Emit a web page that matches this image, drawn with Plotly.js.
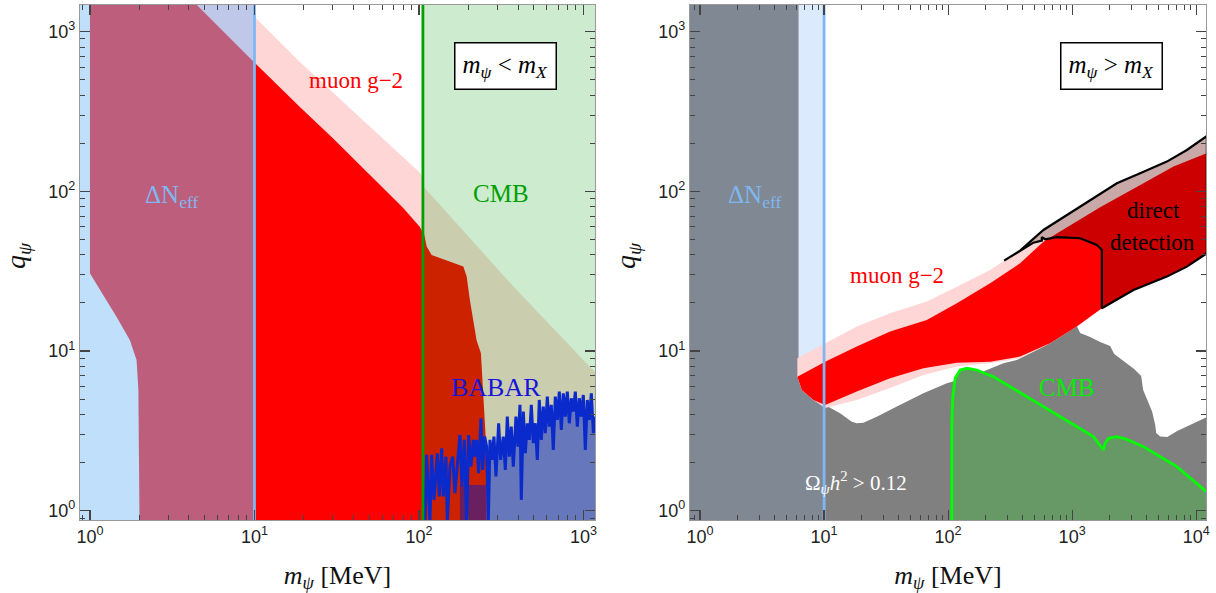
<!DOCTYPE html>
<html><head><meta charset="utf-8">
<script src="https://cdn.plot.ly/plotly-3.0.1.min.js"></script>
<style>body{margin:0;background:#fff}#plot{width:1216px;height:593px}</style>
</head><body><div id="plot"></div>
<script>
// ---------------- axis extents ----------------
const qRange = [0.875, 1468];
const mRangeL = [0.87, 1175];
const mRangeR = [0.83, 12000];
const qLo = 0.5, qHi = 3000;           // beyond the frame, to close regions
const mLoL = 0.5, mHiL = 2000, mLoR = 0.5, mHiR = 20000;

// ---------------- left panel: m_psi < m_X ----------------
const dNeffMaxL = 10;                  // Delta N_eff excluded below 10 MeV
const cmbMinL = 105.66;                // CMB bound above m_mu
const g2RedTopM_L = [3.9, 4.47, 6.5, 10, 18.9, 30, 50, 80, 101.4, 105.66];
const g2RedTopQ_L = [1650, 1468, 1000, 640, 337, 215, 128, 79, 59.8, 55];
const g2PinkTopM_L = [10, 18.9, 43.8, 101.4, 105.66];
const g2PinkTopQ_L = [1240, 646, 290, 130.6, 122];
const g2LeftM_L = [1.0, 1.0, 1.15, 1.45, 1.75, 1.92, 1.97, 2.01];
const g2LeftQ_L = [3000, 30.7, 24.2, 16.4, 11.7, 8.8, 5.7, 0.5];
const khakiTopM_L = [105.66, 108.8, 373, 1175, 1300];
const khakiTopQ_L = [107, 104.7, 25.5, 7.38, 6.6];
const darkRedM_L = [105.66, 107.2, 111.4, 119.4, 186, 195, 204, 224, 238, 246, 251, 255, 258];
const darkRedQ_L = [55, 54.7, 45.1, 40.0, 33.8, 29.3, 20.8, 11.7, 9.7, 5.7, 3.54, 2.77, 0.5];
const babarM = [108.8, 111.3, 116.6, 119.4, 123.4, 129.3, 132.9, 137.3, 140.6, 145.9, 148.7, 154.3, 160.2, 165.5, 169.4, 177.5, 182.5, 188.6, 194.9, 200.4, 207.1, 214.0, 219.0, 224.2, 230.6, 238.2, 243.8, 250.7, 257.8, 264.0, 270.2, 277.8, 285.7, 293.8, 305.0, 313.7, 325.6, 334.8, 344.3, 354.1, 364.1, 374.5, 388.7, 399.7, 411.1, 418.8, 430.8, 443.0, 455.6, 468.5, 481.8, 495.5, 509.5, 524.0, 538.8, 554.1, 569.9, 586.1, 602.7, 619.8, 637.4, 655.4, 674.2, 693.4, 713.0, 733.3, 754.1, 775.5, 797.5, 820.2, 843.4, 867.5, 892.2, 917.4, 943.5, 970.1, 997.7, 1026, 1055, 1085, 1116, 1148, 1175];
const babarQ = [0.85, 2.24, 0.85, 2.24, 1.17, 2.29, 1.23, 2.46, 1.23, 2.18, 0.85, 1.89, 2.18, 1.29, 1.72, 2.98, 1.42, 2.78, 0.85, 2.98, 1.89, 2.78, 2.18, 2.78, 1.72, 3.79, 1.80, 2.91, 2.52, 0.85, 2.78, 2.08, 2.91, 1.64, 3.53, 2.08, 2.91, 1.80, 3.89, 2.18, 3.36, 1.89, 3.89, 2.52, 4.60, 1.17, 4.18, 2.29, 3.53, 2.78, 4.60, 2.65, 3.53, 2.08, 4.94, 2.78, 4.49, 3.06, 5.19, 3.36, 4.60, 2.40, 5.19, 3.70, 5.57, 3.21, 5.44, 3.89, 5.57, 3.53, 5.06, 4.18, 5.57, 3.36, 5.06, 3.89, 5.31, 2.40, 4.94, 3.70, 5.44, 3.06, 3.89];
const babarFillMinM = 257;
const purpleM_L = [177.5, 258];
const purpleQ_L = 1.45;

// ---------------- right panel: m_psi > m_X ----------------
const dNeffDarkMaxR = 6.25;
const dNeffMaxR = 10;
const g2PinkTopM_R = [6.09, 10.19, 18.35, 34.06, 67.3, 117.6, 218.2, 282.8, 380.7, 586.8, 1233, 2294, 3535, 5803, 8414, 12200];
const g2PinkTopQ_R = [9.01, 11.19, 14.22, 17.25, 20.39, 25.31, 32.2, 36.8, 42.5, 57.3, 82.2, 112.4, 129.8, 153.5, 181.6, 222.3];
const g2RedTopM_R = [6.09, 10.19, 18.35, 34.06, 67.3, 117.6, 218.2, 380.7, 586.8, 1682, 3758, 6561, 12200];
const g2RedTopQ_R = [6.91, 8.58, 10.66, 13.23, 15.65, 19.92, 26.58, 35.46, 48.4, 79.5, 112.4, 142.8, 173.2];
const g2RedBotM_R = [6.09, 6.61, 8.2, 10.19, 18.35, 34.06, 63.2, 117.6, 218.2, 380.7, 664.7, 1091, 1736, 3122, 4256, 5803, 8414, 12200];
const g2RedBotQ_R = [6.91, 5.71, 4.94, 4.6, 5.57, 6.75, 7.80, 8.46, 8.58, 9.23, 11.19, 14.22, 18.54, 24.13, 26.58, 29.24, 33.77, 40.96];
const g2PinkBotM_R = [10.19, 18.35, 34.06, 63.2, 117.6, 218.2, 380.7];
const g2PinkBotQ_R = [4.40, 4.94, 5.87, 7.09, 7.99, 8.39, 9.0];
const ddStartM = 282.8, ddCutM = 1736;
const ddInnerM = [1736, 1736, 1582, 1160, 752.5, 605.8, 569.6, 569.6, 487.4, 282.8];
const ddInnerQ = [18.54, 42.98, 46.17, 50.84, 51.6, 50.1, 51.6, 49.1, 47.7, 36.8];
const ddRedTopM = [660, 1682, 3758, 6561, 12200];
const ddRedTopQ = [51.2, 79.5, 112.4, 142.8, 173.2];
const relicTopM = [10.19, 13.46, 16.73, 18.35, 20.75, 26.6, 38.6, 63.2, 97.6, 150.5, 279.3, 358.1, 664.7, 1091];
const relicTopQ = [4.60, 4.08, 3.61, 3.53, 3.56, 3.88, 4.49, 5.44, 6.29, 6.91, 8.39, 8.80, 11.19, 14.36];
const relicHoleM = [1160, 1397, 1682, 2025, 2182, 2777, 3162, 3602, 3737, 4102, 4418, 4671, 4758, 5125, 5837, 7028, 8944, 12200, 20000];
const relicHoleQ = [12.98, 12.26, 11.40, 10.76, 9.59, 8.30, 7.72, 6.98, 5.71, 4.80, 4.16, 3.45, 3.07, 2.92, 2.90, 3.16, 3.45, 3.87, 4.6];
const cmbM_R = [107.1, 107.1, 109.1, 113.9, 125, 141.5, 170.4, 231.9, 431.2, 800.2, 1485, 1788, 1845, 1962, 2294, 2761, 3758, 6989, 12040];
const cmbQ_R = [0.5, 3.53, 5.18, 6.75, 7.61, 7.80, 7.61, 6.91, 5.18, 3.88, 2.91, 2.40, 2.65, 2.84, 2.91, 2.80, 2.52, 1.89, 1.32];

// ---------------- colours ----------------
const C = {
  ltBlue:'#bfdffb', mauve:'#bd5f7c', lavender:'#bfc8e8', red:'#ff0000', pink:'#ffd6d6',
  ltGreen:'#cdeccf', khaki:'#cbcdaf', darkRed:'#cc2200', babarFill:'#6677bb', purple:'#6a2060',
  babarLine:'#0a2acc', cmbLineL:'#00a000', blueLine:'#7db8f5',
  slate:'#7f8893', paleBlue:'#dbeafc', gray:'#808080', ddDusty:'#c9a8a8', ddRed:'#cc0000',
  cmbFill:'#669966', cmbLine:'#00ff00'
};

// ---------------- helpers ----------------
function axes(p){ return p===1 ? {xaxis:'x', yaxis:'y'} : {xaxis:'x2', yaxis:'y2'}; }
function poly(p, xs, ys, color){
  return Object.assign({type:'scatter', mode:'lines', x:xs, y:ys, fill:'toself', fillcolor:color,
    line:{width:0, color:color}, hoverinfo:'skip', showlegend:false}, axes(p));
}
function curve(p, xs, ys, color, w){
  return Object.assign({type:'scatter', mode:'lines', x:xs, y:ys, line:{width:w, color:color},
    hoverinfo:'skip', showlegend:false}, axes(p));
}
function rev(a){ return a.slice().reverse(); }
function sel(ms, qs, f){ const x=[], y=[]; ms.forEach((m,i)=>{ if(f(m)){x.push(m); y.push(qs[i]);} }); return [x,y]; }

const traces = [];
// ===== left panel =====
traces.push(poly(1, [mLoL, dNeffMaxL, dNeffMaxL, mLoL], [qLo, qLo, qHi, qHi], C.ltBlue));
{ const [m,q] = sel(g2RedTopM_L, g2RedTopQ_L, v=>v<=dNeffMaxL);
  traces.push(poly(1, m.concat([dNeffMaxL, m[0]]), q.concat([qHi, qHi]), C.lavender));
  traces.push(poly(1, g2LeftM_L.concat([dNeffMaxL], rev(m)), g2LeftQ_L.concat([qLo], rev(q)), C.mauve)); }
{ const [m,q] = sel(g2RedTopM_L, g2RedTopQ_L, v=>v>=dNeffMaxL);
  traces.push(poly(1, g2PinkTopM_L.concat(rev(m)), g2PinkTopQ_L.concat(rev(q)), C.pink));
  traces.push(poly(1, m.concat([cmbMinL, dNeffMaxL]), q.concat([qLo, qLo]), C.red)); }
traces.push(poly(1, [cmbMinL, mHiL, mHiL, cmbMinL], [qLo, qLo, qHi, qHi], C.ltGreen));
traces.push(poly(1, khakiTopM_L.concat([khakiTopM_L[khakiTopM_L.length-1], cmbMinL]), khakiTopQ_L.concat([qLo, qLo]), C.khaki));
traces.push(poly(1, darkRedM_L.concat([cmbMinL]), darkRedQ_L.concat([qLo]), C.darkRed));
{ const [m,q] = sel(babarM, babarQ, v=>v>=babarFillMinM);
  traces.push(poly(1, m.concat([m[m.length-1], m[0]]), q.concat([qLo, qLo]), C.babarFill)); }
traces.push(poly(1, [purpleM_L[0], purpleM_L[1], purpleM_L[1], purpleM_L[0]], [qLo, qLo, purpleQ_L, purpleQ_L], C.purple));
traces.push(curve(1, babarM, babarQ, C.babarLine, 3));
traces.push(curve(1, [cmbMinL, cmbMinL], [qLo, qHi], C.cmbLineL, 2.8));
traces.push(curve(1, [dNeffMaxL, dNeffMaxL], [qLo, qHi], C.blueLine, 2.8));

// ===== right panel =====
traces.push(poly(2, [mLoR, dNeffDarkMaxR, dNeffDarkMaxR, mLoR], [qLo, qLo, qHi, qHi], C.slate));
traces.push(poly(2, [dNeffDarkMaxR, dNeffMaxR, dNeffMaxR, dNeffDarkMaxR], [qLo, qLo, qHi, qHi], C.paleBlue));
{ const [m,q] = sel(g2RedBotM_R, g2RedBotQ_R, v=>v<=10.19);
  traces.push(poly(2, [m[0]].concat(m, [m[m.length-1]]), [qLo].concat(q, [qLo]), C.slate)); }
traces.push(poly(2, relicTopM.concat(relicHoleM, [mHiR, relicTopM[0]]), relicTopQ.concat(relicHoleQ, [qLo, qLo]), C.gray));
{ const pb = g2PinkBotM_R[g2PinkBotM_R.length-1];
  const [mr,qr] = sel(g2RedBotM_R, g2RedBotQ_R, v=>v>pb);
  const [ml,ql] = sel(g2RedBotM_R, g2RedBotQ_R, v=>v<g2PinkBotM_R[0]);
  traces.push(poly(2, g2PinkTopM_R.concat(rev(mr), rev(g2PinkBotM_R), rev(ml)),
                      g2PinkTopQ_R.concat(rev(qr), rev(g2PinkBotQ_R), rev(ql)), C.pink)); }
traces.push(poly(2, g2RedTopM_R.concat(rev(g2RedBotM_R)), g2RedTopQ_R.concat(rev(g2RedBotQ_R)), C.red));
// direct detection
const [ddUpM, ddUpQ] = sel(g2PinkTopM_R, g2PinkTopQ_R, v=>v>=ddStartM);
const [ddLoM, ddLoQ] = sel(g2RedBotM_R, g2RedBotQ_R, v=>v>=ddCutM);
const ddPolyM = ddUpM.concat(rev(ddLoM), ddInnerM);
const ddPolyQ = ddUpQ.concat(rev(ddLoQ), ddInnerQ);
traces.push(poly(2, ddPolyM, ddPolyQ, C.ddDusty));
traces.push(poly(2, ddRedTopM.concat(rev(ddLoM), ddInnerM.slice(0,5)), ddRedTopQ.concat(rev(ddLoQ), ddInnerQ.slice(0,5)), C.ddRed));
traces.push(curve(2, ddPolyM, ddPolyQ, '#000000', 2.2));
// CMB
traces.push(poly(2, cmbM_R.concat([mHiR, mHiR]), cmbQ_R.concat([cmbQ_R[cmbQ_R.length-1], qLo]), C.cmbFill));
traces.push(curve(2, cmbM_R, cmbQ_R, C.cmbLine, 2.8));
traces.push(curve(2, [dNeffMaxR, dNeffMaxR], [qLo, qHi], C.blueLine, 2.8));

// ---------------- axes ----------------
function decadeText(v){ return '10<sup>' + Math.round(Math.log10(v)) + '</sup>'; }
function minors(lo, hi){ const out=[]; for(let d=Math.floor(Math.log10(lo)); d<=Math.ceil(Math.log10(hi)); d++){ for(let k=2;k<=9;k++){ const v=k*Math.pow(10,d); if(v>=lo && v<=hi) out.push(v);} } return out; }
const yMajor = [1, 10, 100, 1000];
const xMajorL = [1, 10, 100, 1000];
const xMajorR = [1, 10, 100, 1000, 10000];
const serif = 'Liberation Serif, Times New Roman, serif';
const sans = 'Liberation Sans, Arial, sans-serif';
function axisBase(range, major, title){
  const a = {
    type:'log', range:[Math.log10(range[0]), Math.log10(range[1])],
    showgrid:false, zeroline:false, showline:true, linecolor:'#999999', linewidth:1.2, mirror:'ticks',
    ticks:'inside', ticklen:10, tickwidth:1.2, tickcolor:'#444',
    tickmode:'array', tickvals:major, ticktext:major.map(decadeText),
    tickfont:{family:sans, size:18, color:'#222'},
    minor:{tickmode:'array', tickvals:minors(range[0], range[1]), ticks:'inside', ticklen:5, tickwidth:1, tickcolor:'#444', showgrid:false},
    fixedrange:true
  };
  if (title) a.title = {text:title, font:{family:serif, size:26, color:'#111'}, standoff:20};
  return a;
}
const xTitle = '<i>m</i><sub><i>ψ</i></sub> [MeV]';
const yTitle = '<i>q</i><sub><i>ψ</i></sub>';

const W = 1216, H = 593, ML = 80, MR = 10, MT = 5, MB = 73;
function px(x){ return (x-ML)/(W-ML-MR); }
function py(y){ return (H-MB-y)/(H-MT-MB); }
function ann(x, y, text, size, color, extra){
  return Object.assign({xref:'paper', yref:'paper', x:px(x), y:py(y), xanchor:'center', yanchor:'middle',
    text:text, showarrow:false, font:{family:serif, size:size, color:color}}, extra||{});
}
const boxStyle = {bgcolor:'#ffffff', bordercolor:'#000000', borderwidth:1.5, borderpad:7};
const annotations = [
  ann(17, 256, yTitle, 28, '#111', {textangle:-90}),
  ann(627, 256, yTitle, 28, '#111', {textangle:-90}),
  ann(171, 196, 'ΔN<sub>eff</sub>', 25, '#7fb7ef'),
  ann(356, 80, 'muon g−2', 23, '#ff0000'),
  ann(505, 66.5, '<i>m</i><sub><i>ψ</i></sub> &lt; <i>m</i><sub><i>X</i></sub>', 25, '#000', boxStyle),
  ann(501, 193, 'CMB', 25, '#00a000'),
  ann(496, 387, 'BABAR', 26, '#1515dd'),
  ann(754, 196, 'ΔN<sub>eff</sub>', 25, '#7fb7ef'),
  ann(897, 275, 'muon g−2', 23, '#ff0000'),
  ann(1111.5, 66.5, '<i>m</i><sub><i>ψ</i></sub> &gt; <i>m</i><sub><i>X</i></sub>', 25, '#000', boxStyle),
  ann(1153, 210, 'direct', 23, '#000'),
  ann(1152, 243, 'detection', 23, '#000'),
  ann(1067, 387, 'CMB', 25, '#00ee00'),
  ann(856, 482, 'Ω<sub><i>ψ</i></sub><i>h</i><sup>2</sup> &gt; 0.12', 21, '#ffffff')
];

const layout = {
  width:W, height:H, margin:{l:ML, r:MR, t:MT, b:MB},
  paper_bgcolor:'#ffffff', plot_bgcolor:'#ffffff', showlegend:false,
  xaxis: Object.assign(axisBase(mRangeL, xMajorL, xTitle), {domain:[0, 515/1126], anchor:'y'}),
  yaxis: Object.assign(axisBase(qRange, yMajor, null), {anchor:'x'}),
  xaxis2: Object.assign(axisBase(mRangeR, xMajorR, xTitle), {domain:[610/1126, 1], anchor:'y2'}),
  yaxis2: Object.assign(axisBase(qRange, yMajor, null), {anchor:'x2'}),
  annotations: annotations
};
Plotly.newPlot('plot', traces, layout, {staticPlot:true, displayModeBar:false});
</script></body></html>
